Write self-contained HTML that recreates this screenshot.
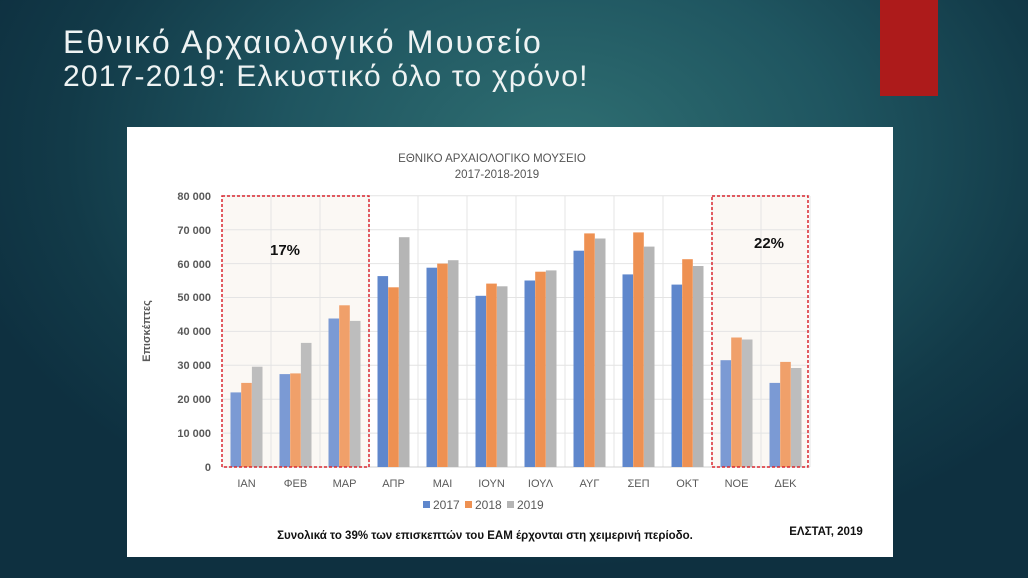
<!DOCTYPE html>
<html><head><meta charset="utf-8"><style>
html,body{margin:0;padding:0;}
body{width:1028px;height:578px;overflow:hidden;position:relative;
background:radial-gradient(ellipse 620px 420px at 560px 150px,#2f6f72 0%,#1f5560 45%,#123a48 80%,#0e3040 100%);
font-family:"Liberation Sans","DejaVu Sans",sans-serif;}
.t{position:absolute;left:63px;color:#eef3f3;font-size:32px;font-weight:300;white-space:nowrap;letter-spacing:2.2px}
</style></head><body>
<div style="position:absolute;left:880px;top:0;width:58px;height:96px;background:#ad1b1b"></div>
<div class="t" style="top:24px">Εθνικό Αρχαιολογικό Μουσείο</div>
<div class="t" style="top:60px;font-size:30px;letter-spacing:1.2px">2017-2019: Ελκυστικό όλο το χρόνο!</div>
<svg style="position:absolute;left:0;top:0" width="1028" height="578" font-family="Liberation Sans, DejaVu Sans, sans-serif">
<rect x="127" y="127" width="766" height="430" fill="#fff"/>
<rect x="222" y="196" width="147" height="271" fill="#fbf8f4"/>
<rect x="712" y="196" width="96" height="271" fill="#fbf8f4"/>
<g stroke="#e4e4e4" stroke-width="1">
<line x1="222" x2="810" y1="433.1" y2="433.1"/><line x1="222" x2="810" y1="399.2" y2="399.2"/>
<line x1="222" x2="810" y1="365.3" y2="365.3"/><line x1="222" x2="810" y1="331.4" y2="331.4"/>
<line x1="222" x2="810" y1="297.5" y2="297.5"/><line x1="222" x2="810" y1="263.6" y2="263.6"/>
<line x1="222" x2="810" y1="229.7" y2="229.7"/><line x1="222" x2="810" y1="195.8" y2="195.8"/>
<line y1="196" y2="467" x1="271" x2="271"/><line y1="196" y2="467" x1="320" x2="320"/>
<line y1="196" y2="467" x1="369" x2="369"/><line y1="196" y2="467" x1="418" x2="418"/>
<line y1="196" y2="467" x1="467" x2="467"/><line y1="196" y2="467" x1="516" x2="516"/>
<line y1="196" y2="467" x1="565" x2="565"/><line y1="196" y2="467" x1="614" x2="614"/>
<line y1="196" y2="467" x1="663" x2="663"/><line y1="196" y2="467" x1="712" x2="712"/>
<line y1="196" y2="467" x1="761" x2="761"/><line y1="196" y2="467" x1="810" x2="810"/>
</g>
<line x1="222" x2="810" y1="467" y2="467" stroke="#d0d0d0"/>
<g fill="#595959" font-size="11" font-weight="bold" text-anchor="end">
<text x="211" y="471">0</text><text x="211" y="437">10 000</text><text x="211" y="403">20 000</text>
<text x="211" y="369">30 000</text><text x="211" y="335">40 000</text><text x="211" y="301">50 000</text>
<text x="211" y="268">60 000</text><text x="211" y="234">70 000</text><text x="211" y="200">80 000</text>
</g>
<text transform="translate(150,331) rotate(-90)" text-anchor="middle" fill="#595959" font-size="11" font-weight="bold">Επισκέπτες</text>
<g id="bars">
<g transform="translate(246.5,467) scale(1,-1)"><rect x="-16" width="10.6" height="74.6" fill="#7b9ad4"/><rect x="-5.3" width="10.6" height="84.1" fill="#f0a06a"/><rect x="5.4" width="10.6" height="100.3" fill="#bdbdbd"/></g>
<g transform="translate(295.5,467) scale(1,-1)"><rect x="-16" width="10.6" height="92.9" fill="#7b9ad4"/><rect x="-5.3" width="10.6" height="93.6" fill="#f0a06a"/><rect x="5.4" width="10.6" height="124.1" fill="#bdbdbd"/></g>
<g transform="translate(344.5,467) scale(1,-1)"><rect x="-16" width="10.6" height="148.5" fill="#7b9ad4"/><rect x="-5.3" width="10.6" height="161.7" fill="#f0a06a"/><rect x="5.4" width="10.6" height="146.1" fill="#bdbdbd"/></g>
<g transform="translate(393.5,467) scale(1,-1)"><rect x="-16" width="10.6" height="190.9" fill="#5f87cc"/><rect x="-5.3" width="10.6" height="179.7" fill="#ee9152"/><rect x="5.4" width="10.6" height="229.8" fill="#b5b5b5"/></g>
<g transform="translate(442.5,467) scale(1,-1)"><rect x="-16" width="10.6" height="199.3" fill="#5f87cc"/><rect x="-5.3" width="10.6" height="203.4" fill="#ee9152"/><rect x="5.4" width="10.6" height="206.8" fill="#b5b5b5"/></g>
<g transform="translate(491.5,467) scale(1,-1)"><rect x="-16" width="10.6" height="171.2" fill="#5f87cc"/><rect x="-5.3" width="10.6" height="183.4" fill="#ee9152"/><rect x="5.4" width="10.6" height="180.7" fill="#b5b5b5"/></g>
<g transform="translate(540.5,467) scale(1,-1)"><rect x="-16" width="10.6" height="186.5" fill="#5f87cc"/><rect x="-5.3" width="10.6" height="195.3" fill="#ee9152"/><rect x="5.4" width="10.6" height="196.6" fill="#b5b5b5"/></g>
<g transform="translate(589.5,467) scale(1,-1)"><rect x="-16" width="10.6" height="216.3" fill="#5f87cc"/><rect x="-5.3" width="10.6" height="233.6" fill="#ee9152"/><rect x="5.4" width="10.6" height="228.5" fill="#b5b5b5"/></g>
<g transform="translate(638.5,467) scale(1,-1)"><rect x="-16" width="10.6" height="192.6" fill="#5f87cc"/><rect x="-5.3" width="10.6" height="234.6" fill="#ee9152"/><rect x="5.4" width="10.6" height="220.4" fill="#b5b5b5"/></g>
<g transform="translate(687.5,467) scale(1,-1)"><rect x="-16" width="10.6" height="182.4" fill="#5f87cc"/><rect x="-5.3" width="10.6" height="207.8" fill="#ee9152"/><rect x="5.4" width="10.6" height="201" fill="#b5b5b5"/></g>
<g transform="translate(736.5,467) scale(1,-1)"><rect x="-16" width="10.6" height="106.8" fill="#7b9ad4"/><rect x="-5.3" width="10.6" height="129.5" fill="#f0a06a"/><rect x="5.4" width="10.6" height="127.5" fill="#bdbdbd"/></g>
<g transform="translate(785.5,467) scale(1,-1)"><rect x="-16" width="10.6" height="84.1" fill="#7b9ad4"/><rect x="-5.3" width="10.6" height="105.1" fill="#f0a06a"/><rect x="5.4" width="10.6" height="99" fill="#bdbdbd"/></g>
</g>
<rect x="222" y="196" width="147" height="271" fill="none" stroke="#d9262e" stroke-width="1.5" stroke-dasharray="3,2"/>
<rect x="712" y="196" width="96" height="271" fill="none" stroke="#d9262e" stroke-width="1.5" stroke-dasharray="3,2"/>
<text x="285" y="255" text-anchor="middle" font-size="15" font-weight="bold" fill="#111">17%</text>
<text x="769" y="248" text-anchor="middle" font-size="15" font-weight="bold" fill="#111">22%</text>
<g fill="#595959" font-size="11" text-anchor="middle">
<text x="246.5" y="487">ΙΑΝ</text><text x="295.5" y="487">ΦΕΒ</text><text x="344.5" y="487">ΜΑΡ</text>
<text x="393.5" y="487">ΑΠΡ</text><text x="442.5" y="487">ΜΑΙ</text><text x="491.5" y="487">ΙΟΥΝ</text>
<text x="540.5" y="487">ΙΟΥΛ</text><text x="589.5" y="487">ΑΥΓ</text><text x="638.5" y="487">ΣΕΠ</text>
<text x="687.5" y="487">ΟΚΤ</text><text x="736.5" y="487">ΝΟΕ</text><text x="785.5" y="487">ΔΕΚ</text>
</g>
<g font-size="12" fill="#595959">
<rect x="423" y="501" width="7" height="7" fill="#5f87cc"/><text x="433" y="509">2017</text>
<rect x="465" y="501" width="7" height="7" fill="#ee9152"/><text x="475" y="509">2018</text>
<rect x="507" y="501" width="7" height="7" fill="#b5b5b5"/><text x="517" y="509">2019</text>
</g>
<text x="485" y="539" text-anchor="middle" font-size="11.5" font-weight="bold" fill="#111">Συνολικά το 39% των επισκεπτών του ΕΑΜ έρχονται στη χειμερινή περίοδο.</text>
<text x="826" y="535" text-anchor="middle" font-size="11.5" font-weight="bold" fill="#111">ΕΛΣΤΑΤ, 2019</text>
<text x="492" y="162" text-anchor="middle" font-size="11.5" fill="#555">ΕΘΝΙΚΟ ΑΡΧΑΙΟΛΟΓΙΚΟ ΜΟΥΣΕΙΟ</text>
<text x="497" y="178" text-anchor="middle" font-size="11.5" fill="#555">2017-2018-2019</text>
</svg>
</body></html>
